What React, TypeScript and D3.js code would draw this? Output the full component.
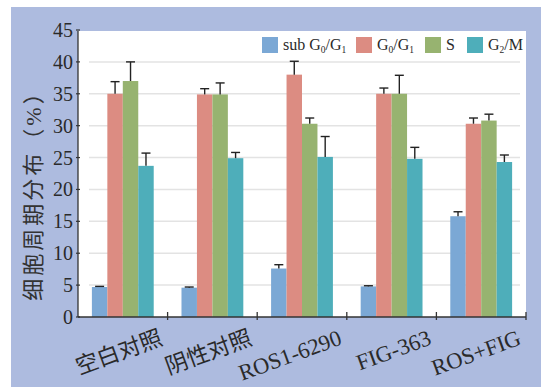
import React from 'react';
import * as d3 from 'd3';

const groups = ['空白对照', '阴性对照', 'ROS1-6290', 'FIG-363', 'ROS+FIG'];
const seriesKeys = ['subG0G1', 'G0G1', 'S', 'G2M'];
const seriesColors = ['#7ba8d5', '#dc8c82', '#97b370', '#4eaeba'];

// mean values per series (one entry per group)
const subG0G1 = [4.7, 4.6, 7.6, 4.8, 15.8];
const G0G1 = [35.0, 34.9, 38.0, 35.0, 30.3];
const S = [37.0, 34.9, 30.3, 35.0, 30.8];
const G2M = [23.7, 24.9, 25.1, 24.8, 24.3];

// upper error (SD)
const subG0G1Err = [0.1, 0.1, 0.6, 0.1, 0.7];
const G0G1Err = [1.9, 0.9, 2.1, 0.9, 0.9];
const SErr = [3.0, 1.8, 0.9, 2.9, 1.0];
const G2MErr = [2.0, 0.9, 3.2, 1.8, 1.1];

const yTicks = [0, 5, 10, 15, 20, 25, 30, 35, 40, 45];

const values = [subG0G1, G0G1, S, G2M];
const errors = [subG0G1Err, G0G1Err, SErr, G2MErr];

const W = 541;
const H = 387;
const margin = { left: 78, right: 15, top: 31, bottom: 70 };
const FONT = '"Liberation Serif", "Noto Sans CJK SC", serif';

const App: React.FC = () => {
  const x0 = d3
    .scaleBand<string>()
    .domain(groups)
    .range([margin.left, W - margin.right]);
  const inner = x0.bandwidth() * 0.69;
  const x1 = d3
    .scaleBand<string>()
    .domain(seriesKeys)
    .range([0, inner]);
  const y = d3
    .scaleLinear()
    .domain([0, 45])
    .range([H - margin.bottom, margin.top - 1]);

  const plotBottom = y(0);
  const plotRight = W - margin.right;

  const legend = [
    { main: 'sub G', s1: '0', mid: '/G', s2: '1', x: 262 },
    { main: 'G', s1: '0', mid: '/G', s2: '1', x: 356 },
    { main: 'S', s1: '', mid: '', s2: '', x: 425 },
    { main: 'G', s1: '2', mid: '/M', s2: '', x: 467 },
  ];

  return (
    <svg
      width={W}
      height={H}
      style={{ position: 'absolute', left: 0, top: 0 }}
      fontFamily={FONT}
    >
      <rect x={0} y={0} width={W} height={H} fill="#ffffff" />
      <rect x={11} y={7} width={W - 11} height={H - 7} fill="#adbbdf" />
      <rect
        x={margin.left}
        y={margin.top}
        width={plotRight - margin.left}
        height={plotBottom - margin.top}
        fill="#ffffff"
      />

      {/* gridlines */}
      {yTicks
        .filter(t => t > 0 && t < 45)
        .map(t => (
          <line
            key={t}
            x1={89}
            x2={520}
            y1={y(t)}
            y2={y(t)}
            stroke="#e3e3e3"
            strokeWidth={1.5}
          />
        ))}

      {/* bars */}
      {groups.map((g, gi) => {
        const gx = (x0(g) as number) + (x0.bandwidth() - inner) / 2;
        return (
          <g key={g}>
            {seriesKeys.map((k, si) => {
              const v = values[si][gi];
              const e = errors[si][gi];
              const bx = gx + (x1(k) as number);
              const cx = bx + x1.bandwidth() / 2;
              return (
                <g key={k}>
                  <rect
                    x={bx}
                    y={y(v)}
                    width={x1.bandwidth()}
                    height={plotBottom - y(v)}
                    fill={seriesColors[si]}
                  />
                  <line x1={cx} x2={cx} y1={y(v)} y2={y(v + e)} stroke="#222" strokeWidth={1.4} />
                  <line x1={cx - 4.5} x2={cx + 4.5} y1={y(v + e)} y2={y(v + e)} stroke="#222" strokeWidth={1.4} />
                </g>
              );
            })}
          </g>
        );
      })}

      {/* axes */}
      <line x1={margin.left} x2={margin.left} y1={margin.top} y2={plotBottom} stroke="#333" strokeWidth={1.3} />
      <line x1={margin.left} x2={plotRight} y1={plotBottom} y2={plotBottom} stroke="#333" strokeWidth={1.3} />
      {yTicks.map(t => (
        <g key={t}>
          <line x1={margin.left - 2} x2={margin.left + 2} y1={y(t)} y2={y(t)} stroke="#333" strokeWidth={1.2} />
          <text
            x={73}
            y={y(t)}
            dy="0.35em"
            textAnchor="end"
            fontSize={20}
            fill="#2a2a2a"
          >
            {t}
          </text>
        </g>
      ))}
      {groups.map((g, gi) => {
        const bx = (x0(g) as number) + x0.bandwidth();
        return (
          <line key={gi} x1={bx} x2={bx} y1={plotBottom - 5} y2={plotBottom + 3} stroke="#333" strokeWidth={1.3} />
        );
      })}

      {/* x labels */}
      {groups.map(g => {
        const cx = (x0(g) as number) + x0.bandwidth() / 2 + 41;
        return (
          <text
            key={g}
            transform={`translate(${cx},344) rotate(-20)`}
            textAnchor="end"
            fontSize={22.5}
            fill="#2a2a2a"
          >
            {g}
          </text>
        );
      })}

      {/* y title */}
      <text
        transform="translate(41,190) rotate(-90)"
        textAnchor="middle"
        fontSize={22}
        letterSpacing={3}
        fill="#333"
      >
        细胞周期分布（%）
      </text>

      {/* legend */}
      {legend.map((l, i) => (
        <g key={i}>
          <rect x={l.x} y={37} width={16} height={16} fill={seriesColors[i]} />
          <text x={l.x + 21} y={50} fontSize={16} fill="#2a2a2a">
            {l.main}
            {l.s1 && (
              <tspan fontSize={9.5} dy={3}>
                {l.s1}
              </tspan>
            )}
            {l.mid && <tspan dy={l.s1 ? -3 : 0}>{l.mid}</tspan>}
            {l.s2 && (
              <tspan fontSize={9.5} dy={3}>
                {l.s2}
              </tspan>
            )}
          </text>
        </g>
      ))}
    </svg>
  );
};

export default App;
